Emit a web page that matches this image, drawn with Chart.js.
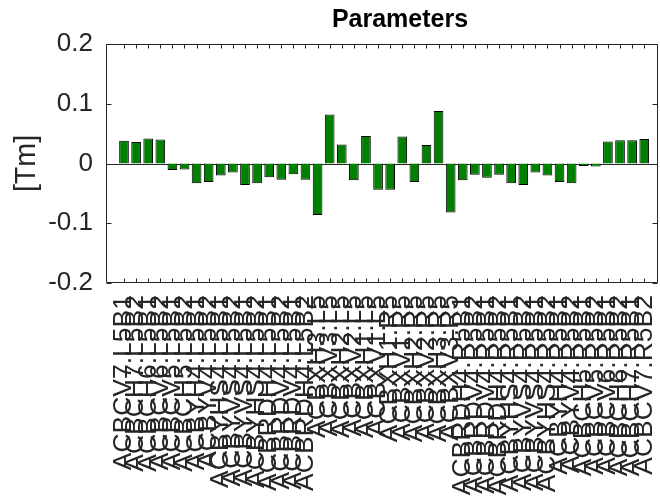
<!DOCTYPE html>
<html>
<head>
<meta charset="UTF-8">
<title>Parameters</title>
<script src="https://cdn.jsdelivr.net/npm/chart.js"></script>
<style>
  html, body { margin: 0; padding: 0; background: #fff; }
</style>
</head>
<body>
<canvas id="grafica" width="660" height="498"></canvas>
<script>
// correctores alrededor del IP5
const nombres = [
  'ACBCV7.L5B1', 'ACBCH7.L5B2', 'ACBCH6.L5B1', 'ACBCV6.L5B2',
  'ACBCV5.L5B1', 'ACBCH5.L5B2', 'ACBYH4.L5B1', 'ACBYV4.L5B2',
  'ACBYHS4.L5B1', 'ACBYVS4.L5B2', 'ACBYVS4.L5B1', 'ACBYHS4.L5B2',
  'ACBRDH4.L5B1', 'ACBRDV4.L5B2', 'ACBRDV4.L5B1', 'ACBRDH4.L5B2',
  'ACBXH3.L5', 'ACBXV3.L5', 'ACBXH2.L5', 'ACBXV2.L5', 'ACBXH1.L5', 'ACBXV1.L5',
  'ACBXH1.R5', 'ACBXV1.R5', 'ACBXH2.R5', 'ACBXV2.R5', 'ACBXH3.R5', 'ACBXV3.R5',
  'ACBRDH4.R5B1', 'ACBRDV4.R5B2', 'ACBRDV4.R5B1', 'ACBRDH4.R5B2',
  'ACBYHS4.R5B1', 'ACBYVS4.R5B2', 'ACBYVS4.R5B1', 'ACBYHS4.R5B2',
  'ACBYH4.R5B1', 'ACBYV4.R5B2', 'ACBCH5.R5B1', 'ACBCV5.R5B2',
  'ACBCV6.R5B1', 'ACBCH6.R5B2', 'ACBCH7.R5B1', 'ACBCV7.R5B2'
];

// valores en [Tm]
const valores = [
  0.038, 0.036, 0.042, 0.040, -0.011, -0.010, -0.033, -0.031,
  -0.020, -0.015, -0.036, -0.033, -0.023, -0.027, -0.018, -0.027,
  -0.086, 0.082, 0.032, -0.028, 0.046, -0.044,
  -0.044, 0.045, -0.031, 0.031, 0.088, -0.082,
  -0.028, -0.019, -0.024, -0.019, -0.033, -0.036, -0.015, -0.020,
  -0.031, -0.033, -0.004, -0.005, 0.037, 0.039, 0.039, 0.041
];

const ticksY = [-0.2, -0.1, 0, 0.1, 0.2];

const colorTexto = '#262626';
const fuente = 'Liberation Sans, Arial, Helvetica, sans-serif';
Chart.defaults.font.family = fuente;
Chart.defaults.color = colorTexto;

// marco, marcas interiores y linea base (estilo matlab)
const marco = {
  id: 'marco',
  afterLayout(chart) {
    // el titulo va un poco a la derecha del centro de los ejes
    const tb = chart.titleBlock;
    if (tb) { tb.left += 18; tb.right += 18; }
  },
  beforeDatasetsDraw(chart) {
    const {ctx, chartArea: a, scales: {y}} = chart;
    const y0 = Math.round(y.getPixelForValue(0)) + 0.5;
    ctx.save();
    ctx.strokeStyle = colorTexto;
    ctx.lineWidth = 1;
    ctx.beginPath();
    ctx.moveTo(a.left, y0);
    ctx.lineTo(a.right, y0);
    ctx.stroke();
    ctx.restore();
  },
  afterDraw(chart) {
    const {ctx, chartArea: a, scales: {x, y}} = chart;
    const l = Math.round(a.left) + 0.5, r = Math.round(a.right) - 0.5;
    const t = Math.round(a.top) + 0.5, b = Math.round(a.bottom) - 0.5;
    ctx.save();
    ctx.strokeStyle = colorTexto;
    ctx.lineWidth = 1;
    ctx.beginPath();
    x.ticks.forEach(tk => {
      const px = Math.round(x.getPixelForValue(tk.value)) + 0.5;
      ctx.moveTo(px, t); ctx.lineTo(px, t + 4);
      ctx.moveTo(px, b); ctx.lineTo(px, b - 4);
    });
    y.ticks.forEach(tk => {
      const py = Math.round(y.getPixelForValue(tk.value)) + 0.5;
      ctx.moveTo(l, py); ctx.lineTo(l + 5, py);
      ctx.moveTo(r, py); ctx.lineTo(r - 5, py);
    });
    ctx.rect(l, t, r - l, b - t);
    ctx.stroke();
    ctx.restore();
  }
};

const ctx = document.getElementById('grafica');

new Chart(ctx, {
  type: 'bar',
  data: {
    datasets: [{
      data: valores.map((v, i) => ({x: i + 1, y: v})),
      backgroundColor: '#008000',
      borderColor: '#000000',
      borderWidth: 1,
      categoryPercentage: 1,
      barPercentage: 0.8
    }]
  },
  options: {
    responsive: false,
    animation: false,
    devicePixelRatio: 1,
    layout: { padding: { left: 0, right: 2, top: 0, bottom: 0 } },
    plugins: {
      legend: { display: false },
      tooltip: { enabled: false },
      title: {
        display: true,
        text: 'Parameters',
        fullSize: false,
        color: '#000000',
        font: { size: 25, weight: 'bold' },
        padding: { top: 5, bottom: 9 }
      }
    },
    scales: {
      x: {
        type: 'linear',
        min: 0.03,
        max: 44.62,
        afterBuildTicks: s => { s.ticks = nombres.map((n, i) => ({value: i + 1})); },
        afterFit: s => { s.height = 215; s.paddingLeft = 0; s.paddingRight = 0; },
        grid: { display: false, drawTicks: false },
        border: { display: false },
        ticks: {
          autoSkip: false,
          minRotation: 90,
          maxRotation: 90,
          padding: 12,
          font: { size: 26.5 },
          callback: (v) => nombres[Math.round(v) - 1]
        }
      },
      y: {
        min: -0.2,
        max: 0.2,
        afterBuildTicks: s => { s.ticks = ticksY.map(v => ({value: v})); },
        afterFit: s => { s.width = 106; s.paddingTop = 0; s.paddingBottom = 0; },
        grid: { display: false, drawTicks: false },
        border: { display: false },
        ticks: {
          padding: 13,
          font: { size: 26 },
          callback: v => String(Math.round(v * 10) / 10)
        },
        title: {
          display: true,
          text: '[Tm]',
          font: { size: 28.6 },
          padding: { top: 10, bottom: 0 }
        }
      }
    }
  },
  plugins: [marco]
});
</script>
</body>
</html>
